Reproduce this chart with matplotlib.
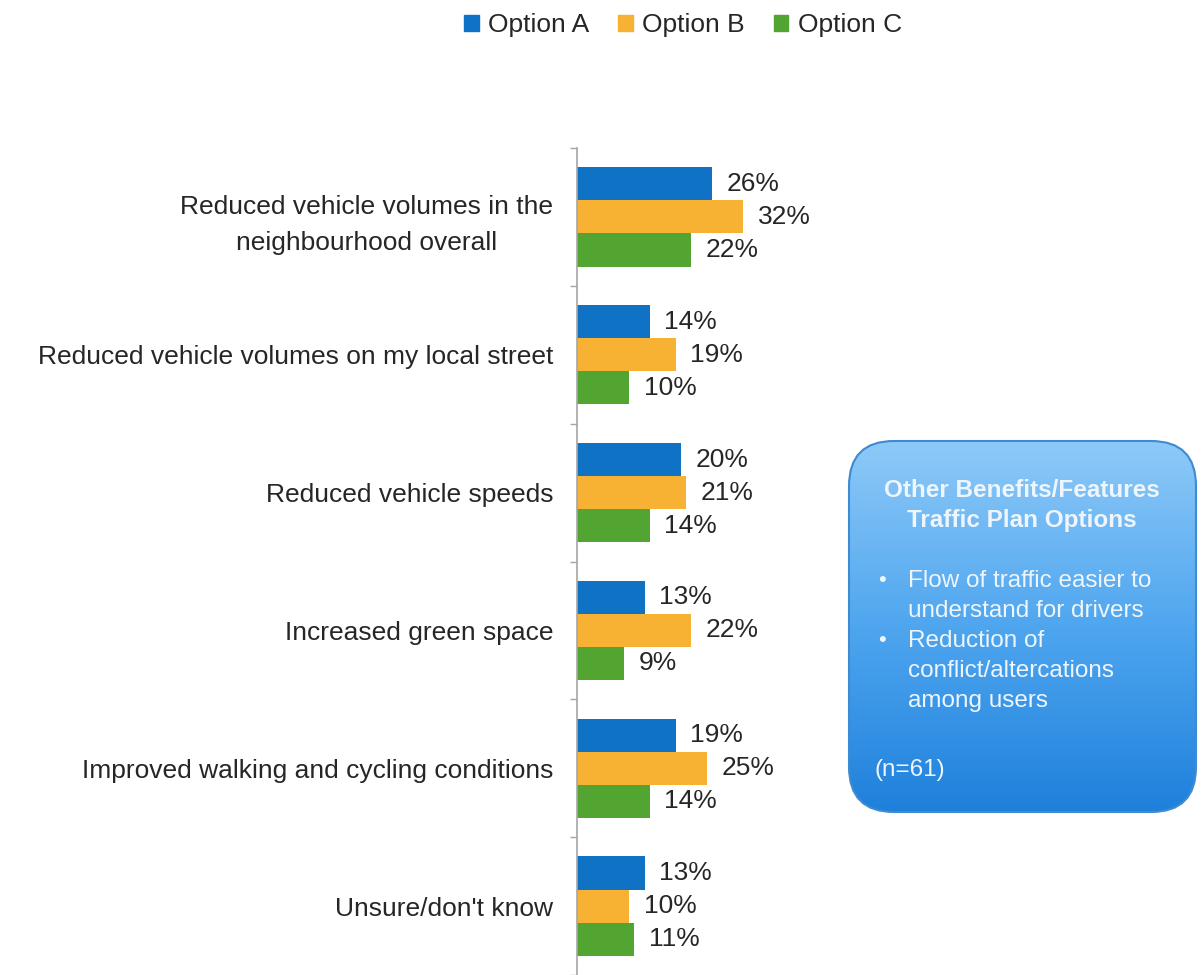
"""
Traffic plan options: benefits by option, horizontal grouped bars
with a callout box on the right.
"""

import numpy as np
import matplotlib
matplotlib.use("Agg")
import matplotlib.pyplot as plt
from matplotlib.patches import FancyBboxPatch, Patch
from matplotlib.colors import LinearSegmentedColormap

plt.rcParams["font.family"] = ["Liberation Sans", "DejaVu Sans"]

# ── Data ─────────────────────────────────────────────────────────────
categories = [
    "Reduced vehicle volumes in the\nneighbourhood overall",
    "Reduced vehicle volumes on my local street",
    "Reduced vehicle speeds",
    "Increased green space",
    "Improved walking and cycling conditions",
    "Unsure/don't know",
]
series_names = ["Option A", "Option B", "Option C"]
option_a = [26, 14, 20, 13, 19, 13]
option_b = [32, 19, 21, 22, 25, 10]
option_c = [22, 10, 14, 9, 14, 11]

box_title = ["Other Benefits/Features", "Traffic Plan Options"]
box_bullets = [["Flow of traffic easier to", "understand for drivers"],
               ["Reduction of", "conflict/altercations", "among users"]]
box_note = "(n=61)"

COLORS = ["#0F72C4", "#F7B133", "#53A531"]
TEXT = "#262626"
FS = 19

# ── Figure ───────────────────────────────────────────────────────────
fig = plt.figure(figsize=(12.01, 9.75), dpi=100)
W, H = 1201, 975

# axes spans x 577 -> 785 px, y 148 -> 975 px
ax = fig.add_axes([577 / W, 0, 208 / W, 1 - 148 / H])

y = np.arange(len(categories))
bar_h = 0.24
for k, vals in enumerate([option_a, option_b, option_c]):
    pos = y + (k - 1) * bar_h
    ax.barh(pos, vals, height=bar_h, color=COLORS[k], label=series_names[k])
    for p, v in zip(pos, vals):
        ax.text(v + 2.8, p, f"{v}%", va="center", ha="left",
                fontsize=FS, color=TEXT, clip_on=False)

ax.set_xlim(0, 40)
ax.set_ylim(-0.5 + 5.97, -0.5)

ax.set_yticks(y)
ax.set_yticklabels(categories, fontsize=FS, color=TEXT, ha="right",
                   multialignment="center", linespacing=1.6)
ax.tick_params(axis="y", which="major", length=0, pad=17)
ax.set_yticks(np.arange(len(categories) + 1) - 0.5, minor=True)
ax.tick_params(axis="y", which="minor", length=5, color="#A6A6A6", width=1)
ax.set_xticks([])
for side in ["top", "right", "bottom"]:
    ax.spines[side].set_visible(False)
ax.spines["left"].set_color("#A6A6A6")
ax.spines["left"].set_linewidth(1.2)

# ── Legend ───────────────────────────────────────────────────────────
handles = [Patch(color=c) for c in COLORS]
fig.legend(handles, series_names, loc="center", bbox_to_anchor=(683 / W, 1 - 25 / H),
           ncol=3, frameon=False, fontsize=FS, handlelength=0.55, handleheight=0.55,
           handletextpad=0.35, columnspacing=1.1, labelcolor=TEXT)

# ── Callout box ──────────────────────────────────────────────────────
bx0, by0, bw, bh = 846, 438, 353, 377
bax = fig.add_axes([bx0 / W, 1 - (by0 + bh) / H, bw / W, bh / H])
bax.set_xlim(0, bw)
bax.set_ylim(bh, 0)
bax.axis("off")

grad = np.linspace(0, 1, 256)[:, None]
cmap = LinearSegmentedColormap.from_list("box", ["#8FCAF8", "#4FA6EF", "#1E80DB"])
img = bax.imshow(grad, cmap=cmap, extent=[0, bw, bh, 0], aspect="auto", zorder=1)
clip = FancyBboxPatch((3, 3), bw - 6, bh - 6,
                      boxstyle="round,pad=0,rounding_size=45",
                      transform=bax.transData, facecolor="none",
                      edgecolor="#3D8BD2", linewidth=1.5, zorder=3)
bax.add_patch(clip)
img.set_clip_path(clip)

white = "#EEF5FC"
BFS = 17.5
LS = 30
for i, line in enumerate(box_title):
    bax.text(176, 52 + i * LS, line, ha="center", va="center", fontsize=BFS,
             fontweight="bold", color=white, zorder=4)
start = [143, 203]
for b, lines in enumerate(box_bullets):
    bax.text(36, start[b], "•", ha="center", va="center", fontsize=16,
             color=white, zorder=4)
    for i, line in enumerate(lines):
        bax.text(62, start[b] + i * LS, line, ha="left", va="center",
                 fontsize=BFS, color=white, zorder=4)
bax.text(28, 332, box_note, ha="left", va="center", fontsize=BFS,
         color=white, zorder=4)

fig.savefig("out.png", dpi=100)
